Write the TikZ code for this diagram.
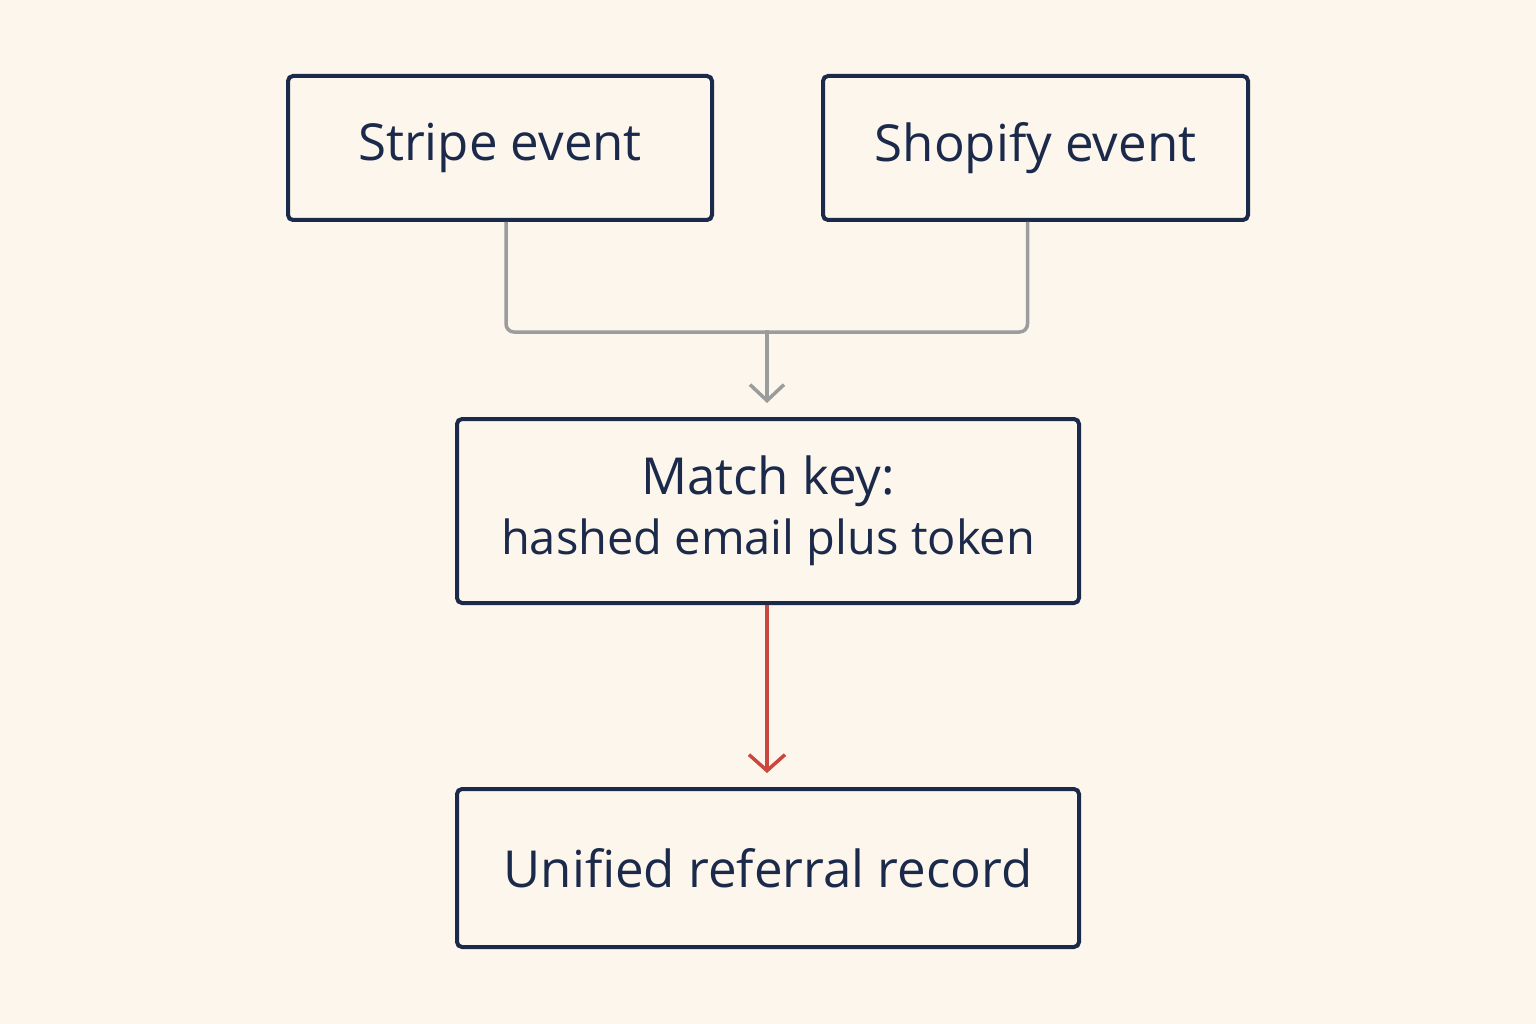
\documentclass[tikz,border=0pt]{standalone}
\usepackage{fontspec}
\setmainfont{Open Sans}
\usetikzlibrary{arrows.meta}
\definecolor{bg}{HTML}{FDF6EC}
\definecolor{navy}{HTML}{1B2A4A}
\definecolor{conn}{HTML}{9A9C9E}
\definecolor{redc}{HTML}{C9473D}
\begin{document}
\begin{tikzpicture}[x=1pt,y=-1pt,
  box/.style={draw=navy,line width=4pt,rounded corners=5pt,fill=bg,text=navy,align=center,font=\fontsize{51}{62}\selectfont},
  gray/.style={draw=conn,line width=3.5pt,rounded corners=8pt},
  tip/.style={-{Straight Barb[length=16pt,width=34pt,line width=3.5pt]}}]
\fill[bg] (0,0) rectangle (1536,1024);
\useasboundingbox (0,0) rectangle (1536,1024);
\node[box,minimum width=424pt,minimum height=144pt] (s) at (500,148) {Stripe event};
\node[box,minimum width=425pt,minimum height=144pt] (h) at (1035.5,148) {Shopify event};
\node[box,minimum width=622pt,minimum height=184pt] (m) at (768,511) {Match key:\\[-2pt]{\fontsize{47}{58}\selectfont hashed email plus token}};
\node[box,minimum width=622pt,minimum height=158pt] (u) at (768,868) {Unified referral record};
\coordinate (j) at (767,330);
\draw[gray] (s.south west) ++(220,0) -- ++(0,110) -| ([xshift=-8pt]h.south);
\draw[gray,tip] (j) -- ([xshift=-1pt,yshift=14pt]m.north);
\draw[redc,line width=3.5pt,-{Straight Barb[length=16pt,width=36pt,line width=3.5pt]}] ([xshift=-1pt]m.south) -- ([xshift=-1pt,yshift=14pt]u.north);
\end{tikzpicture}
\end{document}
